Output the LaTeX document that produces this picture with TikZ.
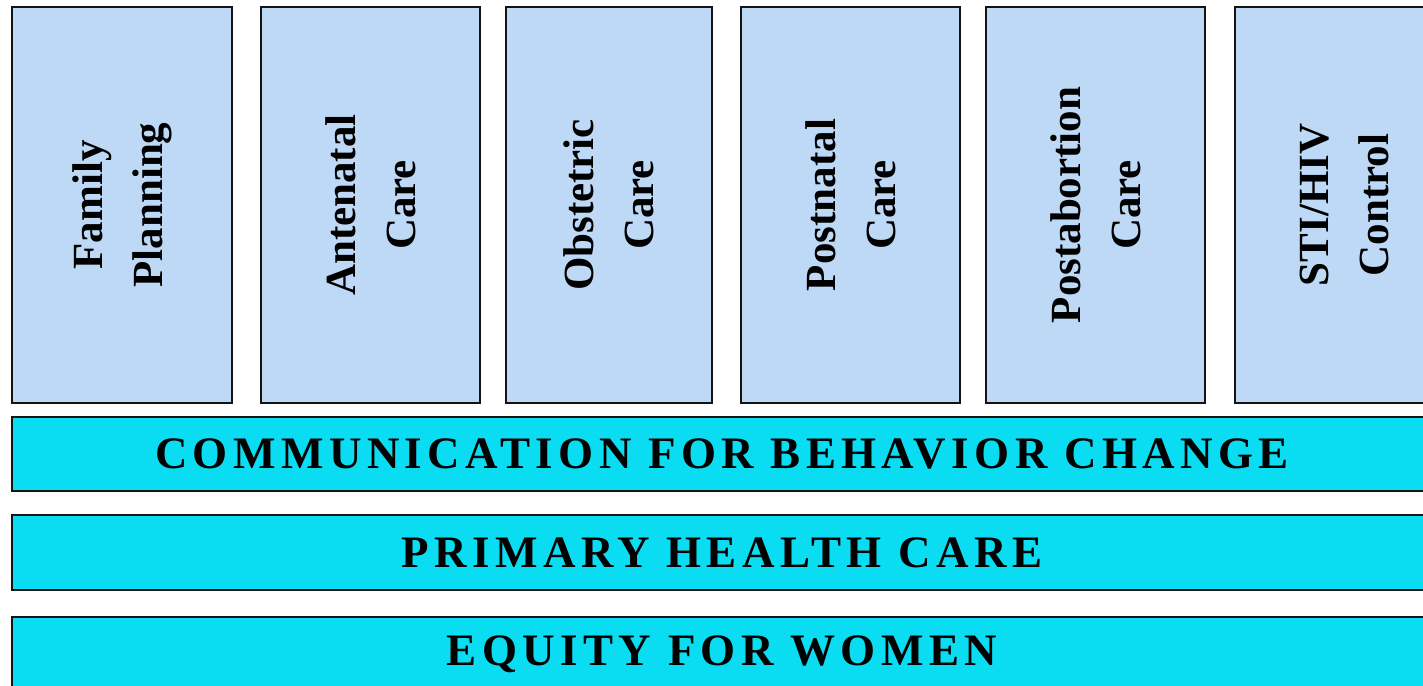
\documentclass[tikz,border=0pt]{standalone}
\usepackage{fontspec}
\setmainfont{Liberation Serif}
\usepackage{tikz}
\definecolor{pillarfill}{HTML}{BDD9F5}
\definecolor{barfill}{HTML}{0ADCF2}
\definecolor{edge}{HTML}{141414}
\tikzset{
  pillar/.style={draw=edge,line width=1pt,fill=pillarfill,rotate=90,inner sep=0pt,minimum width=198pt,align=center,font=\fontsize{21.5}{30}\selectfont\bfseries},
  bar/.style={draw=edge,line width=1pt,fill=barfill,inner sep=0pt,minimum width=710pt,font=\fontsize{22.5}{27}\selectfont\bfseries\addfontfeatures{LetterSpace=12}},
}

\begin{document}
\begin{tikzpicture}[x=0.5pt,y=-0.5pt]
\clip (0,0) rectangle (1423,685);
\fill[white] (0,0) rectangle (1423,685);
% Service pillars
\node[pillar,minimum height=110pt] (fp) at (122,205) {Family\\Planning};
\node[pillar,minimum height=109.5pt] (anc) at (370.5,205) {Antenatal\\Care};
\node[pillar,minimum height=103pt] (obs) at (609,205) {Obstetric\\Care};
\node[pillar,minimum height=109.5pt] (pnc) at (850.5,205) {Postnatal\\Care};
\node[pillar,minimum height=109.5pt] (pac) at (1095.5,205) {Postabortion\\Care};
\node[pillar,minimum height=109.5pt] (sti) at (1344.5,205) {STI/HIV\\Control};
% Foundation bars
\node[bar,minimum height=37pt] (comm) at (722,454) {COMMUNICATION FOR BEHAVIOR CHANGE};
\node[bar,minimum height=37.5pt] (phc) at (722,552.5) {PRIMARY HEALTH CARE};
\node[bar,minimum height=37pt] (equity) at (722,654) {EQUITY FOR WOMEN};
\end{tikzpicture}
\end{document}
